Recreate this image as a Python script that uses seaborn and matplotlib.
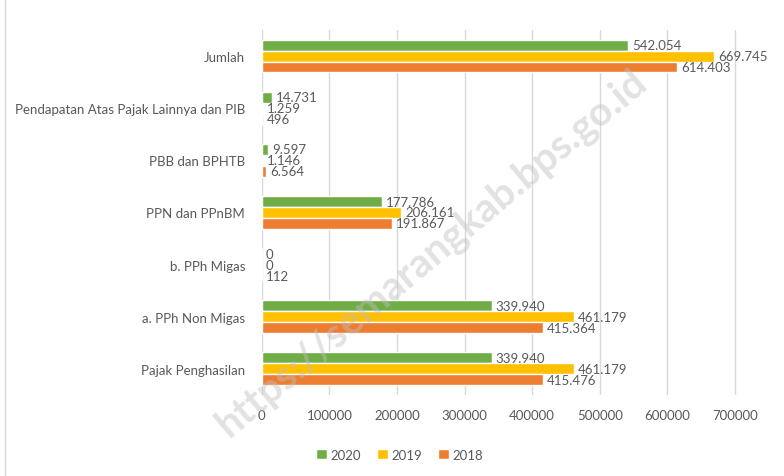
import pandas as pd
import matplotlib.pyplot as plt
import seaborn as sns

# data
categories = ["Jumlah", "Pendapatan Atas Pajak Lainnya dan PIB", "PBB dan BPHTB",
              "PPN dan PPnBM", "b. PPh Migas", "a. PPh Non Migas", "Pajak Penghasilan"]
years = ["2020", "2019", "2018"]
val_2020 = [542054, 14731, 9597, 177786, 0, 339940, 339940]
val_2019 = [669745, 1259, 1146, 206161, 0, 461179, 461179]
val_2018 = [614403, 496, 6564, 191867, 112, 415364, 415476]
x_ticks = [0, 100000, 200000, 300000, 400000, 500000, 600000, 700000]

colors = {"2020": "#70AD47", "2019": "#FFC000", "2018": "#ED7D31"}
text_color = "#595959"

rows = []
for year, vals in zip(years, [val_2020, val_2019, val_2018]):
    for cat, v in zip(categories, vals):
        rows.append({"kategori": cat, "tahun": year, "nilai": v})
df = pd.DataFrame(rows)

sns.set_style("white")
plt.rcParams['font.family'] = ['Lato', 'DejaVu Sans']

fig = plt.figure(figsize=(7.84, 4.77), dpi=100)
ax = fig.add_axes([0.334, 0.170, 0.612, 0.765])

sns.barplot(data=df, x="nilai", y="kategori", hue="tahun", order=categories,
            hue_order=years, palette=colors, orient="h", width=0.63,
            saturation=1, ax=ax, legend=True)

# data labels with dot as thousand separator
for cont, year in zip(ax.containers, years):
    vals = df[df["tahun"] == year]["nilai"].tolist()
    labels = [f"{v:,}".replace(",", ".") for v in vals]
    ax.bar_label(cont, labels=labels, padding=3, fontsize=9.5, color=text_color)

ax.set_xlim(0, 710000)
ax.set_xticks(x_ticks)
ax.set_xticklabels([str(t) for t in x_ticks])
ax.set_xlabel("")
ax.set_ylabel("")
ax.tick_params(axis="both", length=0, labelsize=9.5, colors=text_color)
ax.tick_params(axis="x", pad=10)
ax.tick_params(axis="y", pad=12)
ax.grid(axis="x", color="#D9D9D9", linewidth=1)
ax.set_axisbelow(True)
for s in ax.spines.values():
    s.set_visible(False)

handles, labs = ax.get_legend_handles_labels()
ax.legend(handles, labs, ncol=3, frameon=False, loc="center",
          bbox_to_anchor=(0.51, 0.045), bbox_transform=fig.transFigure,
          fontsize=9.5, labelcolor=text_color, handlelength=0.8,
          handleheight=0.8, handletextpad=0.3, columnspacing=1.2)

# watermark
fig.text(0.55, 0.47, "https://semarangkab.bps.go.id", rotation=40,
         fontsize=29, fontweight="bold", color="#BFBFBF", alpha=0.45,
         ha="center", va="center")

fig.add_artist(plt.Line2D([0.006, 0.006], [0.0, 1.0], color="#D9D9D9",
                          linewidth=1, transform=fig.transFigure))

fig.savefig("out.png", dpi=100)
